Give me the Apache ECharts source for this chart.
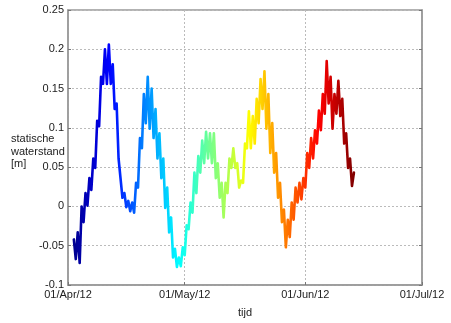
<!DOCTYPE html>
<html>
<head>
<meta charset="utf-8">
<script src="https://cdn.jsdelivr.net/npm/echarts@6/dist/echarts.min.js"></script>
<style>html,body{margin:0;padding:0;background:#fff;}#c{width:451px;height:323px;}</style>
</head>
<body>
<div id="c"></div>
<script>
// days since 01/Apr/12
const days = [1.5,2,2.5,3,3.5,4,4.5,5,5.5,6,6.5,7,7.5,8,8.5,9,9.5,10,10.5,11,11.5,12,12.5,13,13.5,14,14.5,15,15.5,16,16.5,17,17.5,18,18.5,19,19.5,20,20.5,21,21.5,22,22.5,23,23.5,24,24.5,25,25.5,26,26.5,27,27.5,28,28.5,29,29.5,30,30.5,31,31.5,32,32.5,33,33.5,34,34.5,35,35.5,36,36.5,37,37.5,38,38.5,39,39.5,40,40.5,41,41.5,42,42.5,43,43.5,44,44.5,45,45.5,46,46.5,47,47.5,48,48.5,49,49.5,50,50.5,51,51.5,52,52.5,53,53.5,54,54.5,55,55.5,56,56.5,57,57.5,58,58.5,59,59.5,60,60.5,61,61.5,62,62.5,63,63.5,64,64.5,65,65.5,66,66.5,67,67.5,68,68.5,69,69.5,70,70.5,71,71.5,72,72.5,73,73.5];
// statische waterstand [m]
const level = [-0.042,-0.067,-0.033,-0.072,0,-0.02,0.017,0.001,0.036,0.021,0.061,0.049,0.109,0.102,0.165,0.156,0.2,0.156,0.206,0.156,0.181,0.124,0.131,0.061,0.061,0.011,0.017,-0.001,0.007,-0.006,0.005,-0.008,0.03,0.024,0.087,0.074,0.143,0.106,0.165,0.099,0.15,0.087,0.124,0.061,0.093,0.036,0.061,-0.002,0.024,-0.033,-0.014,-0.065,-0.054,-0.077,-0.065,-0.076,-0.052,-0.062,-0.024,-0.029,0.005,-0.008,0.043,0.017,0.064,0.043,0.084,0.055,0.095,0.061,0.093,0.055,0.093,0.036,0.055,0.011,0.03,-0.014,0.03,0.017,0.061,0.049,0.074,0.049,0.055,0.024,0.033,0.03,0.08,0.074,0.121,0.074,0.115,0.08,0.137,0.106,0.162,0.124,0.172,0.099,0.143,0.068,0.106,0.043,0.068,0.011,0.03,-0.02,-0.004,-0.052,-0.017,-0.039,0.005,-0.017,0.024,0.005,0.03,0.009,0.036,0.024,0.068,0.049,0.087,0.061,0.097,0.08,0.122,0.097,0.143,0.118,0.185,0.131,0.165,0.099,0.143,0.118,0.16,0.115,0.137,0.08,0.093,0.049,0.061,0.026,0.043];
const tickDays = [0,30,61,91];
const tickLabels = ['01/Apr/12','01/May/12','01/Jun/12','01/Jul/12'];
const jet = ['#000090','#0000ff','#0080ff','#00ffff','#80ff80','#ffff00','#ff8000','#ff0000','#800000'];

const font = {fontFamily:'Liberation Sans, Arial, sans-serif', fontSize:11, color:'#222'};
const chart = echarts.init(document.getElementById('c'));
const pts = days.map((d,i)=>[d, level[i]]);
const gridLine = {show:true, lineStyle:{color:'#bbb', type:[2,2], width:1}};
chart.setOption({
  animation:false,
  grid:{left:68, right:29, top:10, bottom:35, show:true, borderColor:'#999', borderWidth:1.5, backgroundColor:'transparent'},
  visualMap:{show:false, type:'continuous', dimension:0, min:days[0], max:days[days.length-1], inRange:{color:jet}, seriesIndex:0},
  xAxis:[{
    type:'value', min:0, max:91,
    name:'tijd', nameLocation:'middle', nameGap:22, nameTextStyle:font,
    axisLine:{show:true, onZero:false, lineStyle:{color:'#999', width:1.5}},
    axisTick:{show:true, inside:true, length:3, customValues:tickDays, lineStyle:{color:'#777'}},
    axisLabel:Object.assign({customValues:tickDays, margin:4, formatter:v=>tickLabels[tickDays.indexOf(v)]||''}, font),
    splitLine:Object.assign({customValues:tickDays}, gridLine)
  }],
  yAxis:[{
    type:'value', min:-0.1, max:0.25, interval:0.05,
    axisLine:{show:true, onZero:false, lineStyle:{color:'#999', width:1.5}},
    axisTick:{show:true, inside:true, length:3, lineStyle:{color:'#777'}},
    axisLabel:Object.assign({margin:4, formatter:v=>String(+v.toFixed(2))}, font),
    splitLine:gridLine
  },{
    type:'value', min:-0.1, max:0.25, interval:0.05, position:'right',
    axisLine:{show:true, onZero:false, lineStyle:{color:'#999', width:1.5}},
    axisTick:{show:true, inside:true, length:3, lineStyle:{color:'#777'}},
    axisLabel:{show:false}, splitLine:{show:false}
  }],
  graphic:[{type:'text', left:11, top:133, style:{text:'statische\nwaterstand\n[m]', font:'11px "Liberation Sans", Arial, sans-serif', fill:'#222', lineHeight:12.5}}],
  series:[{
    type:'line', data:pts, showSymbol:false, lineStyle:{width:2.6, join:'round', cap:'round'}, yAxisIndex:0
  }]
});
</script>
</body>
</html>
